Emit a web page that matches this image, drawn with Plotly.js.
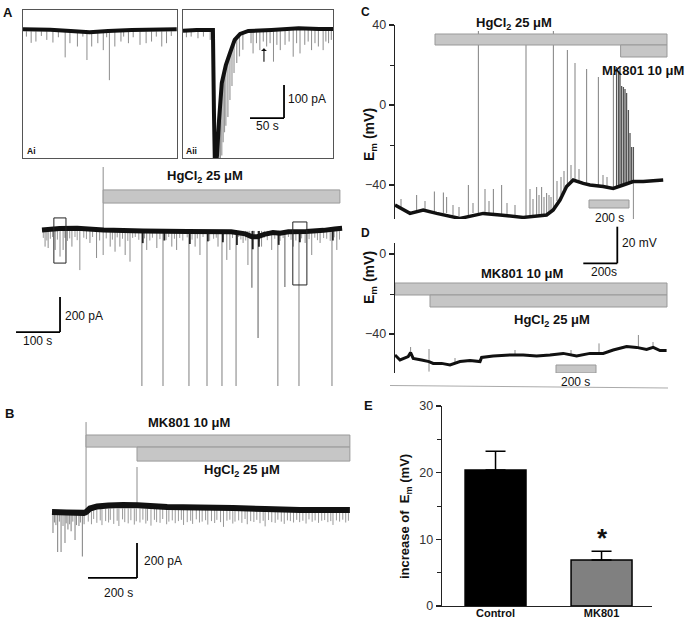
<!DOCTYPE html>
<html><head><meta charset="utf-8">
<script src="https://cdn.plot.ly/plotly-3.0.1.min.js"></script>
<style>html,body{margin:0;padding:0;background:#fff}#chart{width:685px;height:620px}</style>
</head><body><div id="chart"></div>
<script>
// ================= DATA =================
// Panel Ai inset: time (s), current (pA)
const aiBaseT = [0, 40, 70, 98, 125, 160, 226];
const aiBaseI = [2, 1, -3, -7, -3, 0, 2];
const aiSpT = [5, 12, 19, 27, 35, 44, 52, 62, 69, 80, 88, 94, 101, 110, 118, 123, 127, 135, 144, 148, 155, 162, 172, 181, 189, 196, 204, 211, 218];
const aiSpI = [-20, -39, -35, -18, -30, -38, -22, -83, -40, -50, -20, -91, -50, -40, -61, -22, -152, -50, -35, -20, -40, -22, -45, -40, -35, -20, -50, -40, -18];

// Panel Aii inset
const aiiBaseT = [0, 20, 44, 45.5, 47, 50, 53, 57, 63, 69, 76, 84, 96, 130, 170, 200, 220.5];
const aiiBaseI = [-2, 0, 0, -250, -420, -380, -273, -161, -106, -70, -30, -12, -3, 0, 5, 3, 3];
const aiiRecT = [49, 51, 53, 55, 57, 59, 61, 63, 66, 69, 72, 75, 79, 83, 88];
const aiiRecB = [-400, -330, -273, -210, -161, -140, -120, -106, -90, -70, -50, -30, -20, -12, -6];
const aiiRecP = [-420, -420, -420, -400, -380, -340, -310, -290, -264, -212, -170, -130, -100, -80, -60];
const aiiSpT = [5, 12, 22, 30, 40, 100, 103, 108, 113, 118, 123, 128, 133, 138, 143, 150, 156, 162, 167, 172, 179, 184, 189, 194, 199, 206, 210, 214, 218];
const aiiSpI = [-22, -20, -25, -20, -30, -40, -71, -40, -61, -35, -50, -40, -96, -45, -61, -45, -35, -81, -40, -71, -45, -35, -61, -40, -50, -61, -35, -40, -30];
const aiiArrow = [119, -55];

// Panel A main trace
const aBaseT = [0, 40, 80, 140, 230, 330, 430, 462, 477, 490, 505, 525, 541, 560, 600, 640, 665, 682];
const aBaseI = [0, 8, 10, 0, -5, -8, -10, -22, -38, -38, -25, -15, -19, -10, -8, -2, 6, 10];
const aBigT = [227, 275, 334, 375, 409, 441, 536, 584, 659];
const aBigI = [-1000, -1000, -1000, -1000, -1000, -1000, -1000, -1000, -1000];
const aMedT = [477, 491, 552];
const aMedI = [-330, -617, -326];
const aSpT = [7, 14, 30, 41, 48, 68, 86, 109, 124, 155, 166, 177, 189, 200, 238, 261, 295, 306, 348, 359, 400, 420, 427, 457, 468, 499, 522, 571, 598, 613, 632, 670];
const aSpI = [-95, -103, -114, -152, -114, -95, -229, -74, -160, -95, -124, -95, -143, -181, -114, -103, -95, -114, -95, -143, -95, -171, -114, -74, -200, -95, -114, -95, -74, -143, -74, -114];
const aTinyT = [3, 11, 19, 24, 35, 52, 58, 63, 75, 80, 95, 101, 115, 131, 146, 160, 171, 183, 195, 206, 212, 220, 233, 245, 251, 268, 282, 288, 301, 313, 320, 330, 341, 353, 366, 381, 390, 396, 412, 433, 447, 452, 463, 472, 483, 494, 505, 512, 529, 541, 548, 560, 566, 577, 590, 607, 620, 626, 640, 647, 655, 664, 676];
const aTinyI = [-45, -60, -50, -40, -55, -45, -62, -48, -40, -58, -44, -52, -40, -60, -48, -55, -42, -50, -62, -45, -40, -56, -48, -60, -44, -52, -58, -40, -50, -46, -60, -42, -55, -48, -40, -62, -50, -44, -58, -46, -40, -54, -60, -48, -52, -66, -44, -58, -50, -62, -46, -40, -56, -60, -48, -52, -44, -58, -46, -50, -62, -42, -55];
const aDarkT = [229, 278, 336, 377, 411, 443, 479, 493, 538, 586, 661];
const aDarkI = [-75, -60, -80, -65, -70, -85, -110, -95, -85, -70, -60];
const aHg = [139, 677];           // HgCl2 application (s)
const aBox1 = [27, 54.5, 69, -189]; // t0, t1, i0, i1
const aBox2 = [570, 602, 46, -314];

// Panel B
const bBaseT = [0, 60, 130, 140, 155, 184, 230, 290, 350, 470, 600, 740, 870, 1012, 1216];
const bBaseI = [0, -3, -5, 0, 20, 32, 37, 40, 38, 29, 25, 23, 17, 11, 11];
const bBigT = [4, 23, 37, 53, 65, 78, 94, 110, 124];
const bBigI = [-120, -228, -228, -177, -100, -110, -160, -80, -255];
const bPreT = [10, 16, 30, 45, 58, 72, 85, 100, 116, 131];
const bPreI = [-60, -75, -55, -80, -65, -70, -55, -75, -60, -70];
const bSmT = [148, 161, 170, 183, 197, 204, 219, 231, 238, 252, 266, 273, 288, 297, 311, 322, 336, 344, 359, 371, 383, 390, 404, 418, 427, 441, 452, 468, 477, 491, 503, 516, 528, 537, 552, 566, 574, 589, 602, 613, 627, 636, 651, 664, 673, 688, 700, 714, 726, 738, 747, 762, 775, 788, 797, 811, 824, 836, 849, 862, 870, 884, 897, 911, 922, 936, 948, 961, 973, 986, 999, 1011, 1024, 1037, 1049, 1062, 1074, 1088, 1101, 1113, 1126, 1138, 1147, 1161, 1174, 1187, 1199, 1210];
const bSmI = [-55, -70, -40, -62, -48, -75, -52, -60, -45, -68, -50, -80, -42, -58, -65, -47, -72, -53, -60, -44, -66, -50, -78, -45, -58, -62, -40, -70, -55, -48, -64, -52, -45, -74, -58, -50, -68, -42, -60, -55, -47, -72, -52, -63, -45, -58, -85, -50, -44, -66, -55, -48, -62, -40, -70, -52, -57, -45, -64, -50, -82, -46, -58, -62, -44, -55, -68, -48, -52, -60, -45, -58, -50, -66, -42, -56, -48, -62, -50, -46, -58, -52, -74, -48, -55, -44, -60, -50];
const bMk = [139, 1216];
const bHg = [347, 1216];

// Panel C: time (s), Em (mV)
const cBaseT = [0, 75, 141, 208, 325, 441, 525, 641, 758, 791, 825, 858, 891, 941, 975, 1041, 1091, 1141, 1191, 1241, 1341];
const cBaseV = [-50, -54.2, -52.5, -54.2, -56.7, -54.2, -55, -56.2, -55, -52.5, -47.5, -40.8, -37.5, -39.2, -40, -40.8, -41.7, -40, -38.3, -38.3, -37.5];
const cSpT = [30, 108, 150, 197, 242, 258, 290, 320, 367, 390, 417, 450, 470, 492, 533, 560, 600, 655, 675, 690, 708, 720, 733, 745, 758, 770, 780, 792, 810, 830, 845, 862, 880, 900, 920, 958, 1017, 1040, 1060, 1092];
const cSpB = [-51, -53, -53, -54, -54, -54, -55, -55.5, -55, -54, -54, -54, -54, -54.5, -55, -55, -55.5, -56, -56, -56, -55.5, -55, -55, -55, -55, -54, -53, -52, -48, -45, -42, -40, -38, -38, -39, -40, -41, -41, -41, -41.5];
const cSpP = [-47, -45, -48, -43.3, -43.7, -46, -50, -51, -40, -49, 37, -42, -48, -42, -40, -49, -50, 30, -42, -47, -41, -45, -41, -46, -44, -45, -46, 37, -38, -36, -33, 27.5, -30, 21, -32, 18, 14, -35, -36, 15.8];
const cBurstT = [1108, 1118, 1125, 1133, 1142, 1150, 1158, 1167, 1175, 1183, 1192];
const cBurstB = [-41, -41, -40.5, -40, -40, -40, -39.5, -39, -39, -38.5, -38.5];
const cBurstP = [19, 17, 19, 9.5, 9, 8, 6, -2.5, -14, -21, -21];
const cDownT = [1192];
const cDownB = [-38.5];
const cDownP = [-62];
const cHg = [200, 1360];
const cMk = [1128, 1360];
const cTimeBar = [970, 1170];

// Panel D
const dBaseT = [0, 25, 66, 78, 91, 133, 170, 191, 233, 275, 325, 375, 425, 433, 491, 575, 641, 708, 775, 841, 908, 975, 1041, 1091, 1158, 1208, 1258, 1291, 1325, 1358];
const dBaseV = [-50.5, -53, -51.3, -49.3, -52.2, -53, -53.8, -54.7, -54.7, -55.5, -53.8, -53.3, -53.8, -51.7, -51, -50.5, -50.5, -51, -50.5, -49.7, -51, -49.7, -49.7, -48, -46.3, -46.7, -47.7, -46.7, -48.3, -48.3];
const dSpT = [78, 170, 170, 300, 600, 880, 1020, 1217, 1290];
const dSpB = [-50, -53.5, -53.5, -55, -50.5, -50.5, -49.7, -46.7, -47];
const dSpP = [-46.5, -47.5, -58.8, -52, -48, -48, -44.7, -40.5, -44];
const dMk = [0, 1360];
const dHg = [175, 1360];
const dTimeBar = [805, 1005];

// Panel E
const eCats = ['Control', 'MK801'];
const eMeans = [20.4, 6.9];
const eErr = [2.8, 1.3];
const eTicks = [0, 10, 20, 30];

// ================= BUILD =================
const W = 685, H = 620;
const F = 'Liberation Sans, Arial, Helvetica, sans-serif';
const X = (a, b) => [a / W, b / W];
const Y = (top, bottom) => [1 - bottom / H, 1 - top / H];

function spk(ts, peaks, base, xa, ya, color, width) {
  const x = [], y = [];
  for (let i = 0; i < ts.length; i++) {
    const b = Array.isArray(base) ? base[i] : base;
    x.push(ts[i], ts[i], null); y.push(b, peaks[i], null);
  }
  return {type: 'scatter', mode: 'lines', x, y, xaxis: xa, yaxis: ya, line: {color, width}, hoverinfo: 'skip', connectgaps: false};
}
function ln(xs, ys, xa, ya, color, width) {
  return {type: 'scatter', mode: 'lines', x: xs, y: ys, xaxis: xa, yaxis: ya, line: {color, width, simplify: false}, hoverinfo: 'skip'};
}

const data = [
  // Ai
  spk(aiSpT, aiSpI, -4, 'x', 'y', '#8c8c8c', 1),
  ln(aiBaseT, aiBaseI, 'x', 'y', '#111', 4),
  // Aii
  spk(aiiRecT, aiiRecP, aiiRecB, 'x2', 'y2', '#9a9a9a', 1.2),
  spk(aiiSpT, aiiSpI, 0, 'x2', 'y2', '#8c8c8c', 1),
  ln(aiiBaseT, aiiBaseI, 'x2', 'y2', '#111', 4),
  // A main
  spk(aTinyT, aTinyI, -5, 'x3', 'y3', '#9a9a9a', 1),
  spk(aSpT, aSpI, -5, 'x3', 'y3', '#8c8c8c', 1),
  spk(aBigT, aBigI, -5, 'x3', 'y3', '#8a8a8a', 1.1),
  spk(aMedT, aMedI, -5, 'x3', 'y3', '#6a6a6a', 1.1),
  spk(aDarkT, aDarkI, -5, 'x3', 'y3', '#222', 1.8),
  ln(aBaseT, aBaseI, 'x3', 'y3', '#111', 5),
  // B
  spk(bPreT, bPreI, 0, 'x4', 'y4', '#8c8c8c', 1),
  spk(bBigT, bBigI, 0, 'x4', 'y4', '#8a8a8a', 1.1),
  spk(bSmT, bSmI, 20, 'x4', 'y4', '#999', 1),
  ln(bBaseT, bBaseI, 'x4', 'y4', '#111', 6),
  // C
  spk(cSpT, cSpP, cSpB, 'x5', 'y5', '#8c8c8c', 1.1),
  spk(cBurstT, cBurstP, cBurstB, 'x5', 'y5', '#555', 1.3),
  spk(cDownT, cDownP, cDownB, 'x5', 'y5', '#8c8c8c', 1),
  ln(cBaseT, cBaseV, 'x5', 'y5', '#111', 3.5),
  // D
  spk(dSpT, dSpP, dSpB, 'x6', 'y6', '#8c8c8c', 1),
  ln(dBaseT, dBaseV, 'x6', 'y6', '#111', 3),
  // E
  {type: 'bar', x: eCats, y: eMeans, xaxis: 'x7', yaxis: 'y7', width: 0.575,
   marker: {color: ['#000000', '#808080'], line: {color: '#000', width: 1.5}},
   error_y: {type: 'data', array: eErr, arrayminus: [0, 0], symmetric: false, color: '#000', thickness: 1.5, width: 10},
   hoverinfo: 'skip'}
];

const BAR_FILL = '#c6c6c6', BAR_LINE = '#999';
function rect(xa, ya, x0, x1, y0, y1) {
  return {type: 'rect', xref: xa, yref: ya, x0, x1, y0, y1, fillcolor: BAR_FILL, line: {color: BAR_LINE, width: 1}};
}
function vline(xa, ya, x, y0, y1) {
  return {type: 'line', xref: xa, yref: ya, x0: x, x1: x, y0, y1, layer: 'below', line: {color: '#8c8c8c', width: 1}};
}
function box(xa, ya, b) {
  return {type: 'rect', xref: xa, yref: ya, x0: b[0], x1: b[1], y0: b[2], y1: b[3], line: {color: '#222', width: 1}, fillcolor: 'rgba(0,0,0,0)'};
}
function sbar(xa, ya, x, y, dx, dy) {
  return [
    {type: 'line', xref: xa, yref: ya, x0: x - dx, x1: x, y0: y, y1: y, line: {color: '#000', width: 1.8}},
    {type: 'line', xref: xa, yref: ya, x0: x, x1: x, y0: y, y1: y + dy, line: {color: '#000', width: 1.8}}
  ];
}
const pxX = v => v / W, pxY = v => 1 - v / H;

const shapes = [
  // A main
  vline('x3', 'y3', aHg[0], 360, -143),
  rect('x3', 'y3', aHg[0], aHg[1], 154, 229),
  box('x3', 'y3', aBox1), box('x3', 'y3', aBox2),
  ...sbar('x3', 'y3', 41, -583, 100, 200),
  // Aii scale bar
  ...sbar('x2', 'y2', 148.5, -267, 50, 100),
  // B
  vline('x4', 'y4', bMk[0], 514, -20),
  vline('x4', 'y4', bHg[0], 257, 35),
  rect('x4', 'y4', bMk[0], bMk[1], 371, 440),
  rect('x4', 'y4', bHg[0], bHg[1], 291, 371),
  ...sbar('x4', 'y4', 347, -377, 200, 200),
  // C
  rect('x5', 'y5', cHg[0], cHg[1], 30, 35.5),
  rect('x5', 'y5', cMk[0], cMk[1], 24, 30),
  rect('x5', 'y5', cTimeBar[0], cTimeBar[1], -51.5, -47.5),
  // D
  rect('x6', 'y6', dMk[0], dMk[1], -20.5, -14.5),
  rect('x6', 'y6', dHg[0], dHg[1], -26.5, -20.5),
  rect('x6', 'y6', dTimeBar[0], dTimeBar[1], -59.5, -55.5),
  // shared C/D scale bar (paper)
  {type: 'line', xref: 'paper', yref: 'paper', x0: pxX(583.3), x1: pxX(617.3), y0: pxY(263.3), y1: pxY(263.3), line: {color: '#000', width: 1.8}},
  {type: 'line', xref: 'paper', yref: 'paper', x0: pxX(617.3), x1: pxX(617.3), y0: pxY(263.3), y1: pxY(226.7), line: {color: '#000', width: 1.8}},
  // thin line under D
  {type: 'line', xref: 'paper', yref: 'paper', x0: pxX(390), x1: pxX(668), y0: pxY(385.5), y1: pxY(388), line: {color: '#aaa', width: 1}}
];

function ann(x, y, text, size, o) {
  o = o || {};
  return {xref: 'paper', yref: 'paper', x: x / W, y: 1 - y / H, text, showarrow: false,
          xanchor: o.xa || 'center', yanchor: 'middle', textangle: o.angle || 0,
          font: {family: F, size, color: o.color || '#111'}};
}
const HG = '<b>HgCl<sub>2</sub> 25 μM</b>';
const MK = '<b>MK801 10 μM</b>';
const EM = '<b>E<sub>m</sub> (mV)</b>';
const annotations = [
  ann(8, 12, '<b>A</b>', 13),
  ann(32, 151, '<b>Ai</b>', 8.5),
  ann(191, 151, '<b>Aii</b>', 8.5),
  ann(286, 99, '100 pA', 12, {xa: 'left'}),
  ann(267, 126, '50 s', 12),
  ann(205, 177, HG, 13),
  ann(63, 316, '200 pA', 12, {xa: 'left'}),
  ann(37, 341, '100 s', 12),
  ann(9, 413, '<b>B</b>', 13),
  ann(189, 422, MK, 13),
  ann(242, 470, HG, 13),
  ann(142, 561, '200 pA', 12, {xa: 'left'}),
  ann(118, 593, '200 s', 12),
  ann(365, 12, '<b>C</b>', 12),
  ann(514, 23, HG, 13),
  ann(643, 70, MK, 13),
  ann(609, 218, '200 s', 12),
  ann(620, 243, '20 mV', 12, {xa: 'left'}),
  ann(604, 272, '200s', 12),
  ann(365, 233, '<b>D</b>', 12),
  ann(522, 273, MK, 13),
  ann(552, 320, HG, 13),
  ann(575, 382, '200 s', 12),
  ann(368, 406, '<b>E</b>', 13),
  ann(602, 538, '<b>*</b>', 26),
  ann(370, 135, EM, 14, {angle: -90}),
  ann(370, 278, EM, 14, {angle: -90}),
  ann(405, 517, '<b>increase of  E<sub>m</sub> (mV)</b>', 13, {angle: -90}),
  {xref: 'x2', yref: 'y2', x: aiiArrow[0], y: aiiArrow[1], ax: 0, ay: 15, text: '', showarrow: true,
   arrowhead: 1, arrowsize: 0.9, arrowwidth: 1.1, arrowcolor: '#111', standoff: 0}
];

function hidden(domain, range, anchor) {
  return {domain, range, anchor, visible: false, fixedrange: true, showgrid: false, zeroline: false};
}
function boxAx(domain, range, anchor) {
  return {domain, range, anchor, showline: true, mirror: true, linecolor: '#555', linewidth: 1.2,
          ticks: '', showticklabels: false, showgrid: false, zeroline: false, fixedrange: true};
}
function valAx(domain, range, anchor, tickvals, minorD) {
  return {domain, range, anchor, showline: true, linecolor: '#222', linewidth: 1.3,
          ticks: 'outside', ticklen: 5, tickwidth: 1.2, tickcolor: '#222', tickvals,
          tickfont: {family: F, size: 12.5, color: '#333'},
          minor: {dtick: minorD, tick0: 0, ticks: 'outside', ticklen: 3.5, tickwidth: 1, tickcolor: '#222'},
          showgrid: false, zeroline: false, fixedrange: true};
}

const layout = {
  width: W, height: H, margin: {l: 0, r: 0, t: 0, b: 0},
  paper_bgcolor: '#fff', plot_bgcolor: 'rgba(0,0,0,0)', showlegend: false,
  font: {family: F, size: 12, color: '#111'},
  xaxis: boxAx(X(23, 177), [0, 226.4], 'y'),
  yaxis: boxAx(Y(10, 158), [-387.9, 60.6], 'x'),
  xaxis2: boxAx(X(183, 333), [0, 220.5], 'y2'),
  yaxis2: boxAx(Y(10, 158), [-387.9, 60.6], 'x2'),
  xaxis3: hidden(X(10, 345), [-72.7, 688.6], 'y3'),
  yaxis3: hidden(Y(163, 386), [-891.4, 382.9], 'x3'),
  xaxis4: hidden(X(40, 352), [-49, 1224.6], 'y4'),
  yaxis4: hidden(Y(415, 600), [-502.9, 554.3], 'x4'),
  xaxis5: hidden(X(395, 670), [0, 1375], 'y5'),
  yaxis5: valAx(Y(25, 219), [-57, 40], 'x5', [-40, 0, 40], 20),
  xaxis6: hidden(X(395, 670), [0, 1375], 'y6'),
  yaxis6: valAx(Y(243, 373), [-59.5, 5.5], 'x6', [-40, 0], 20),
  xaxis7: {domain: X(442, 652), range: [-0.505, 1.476], anchor: 'y7', type: 'category',
           showline: true, linecolor: '#222', linewidth: 1.3, ticks: '',
           tickfont: {family: F, size: 11, color: '#111', weight: 'bold'},
           ticklabelstandoff: -4,
           showgrid: false, zeroline: false, fixedrange: true},
  yaxis7: valAx(Y(406, 606), [0, 30], 'x7', eTicks, 5),
  shapes, annotations
};

Plotly.newPlot('chart', data, layout, {staticPlot: true, displayModeBar: false});
</script></body></html>
